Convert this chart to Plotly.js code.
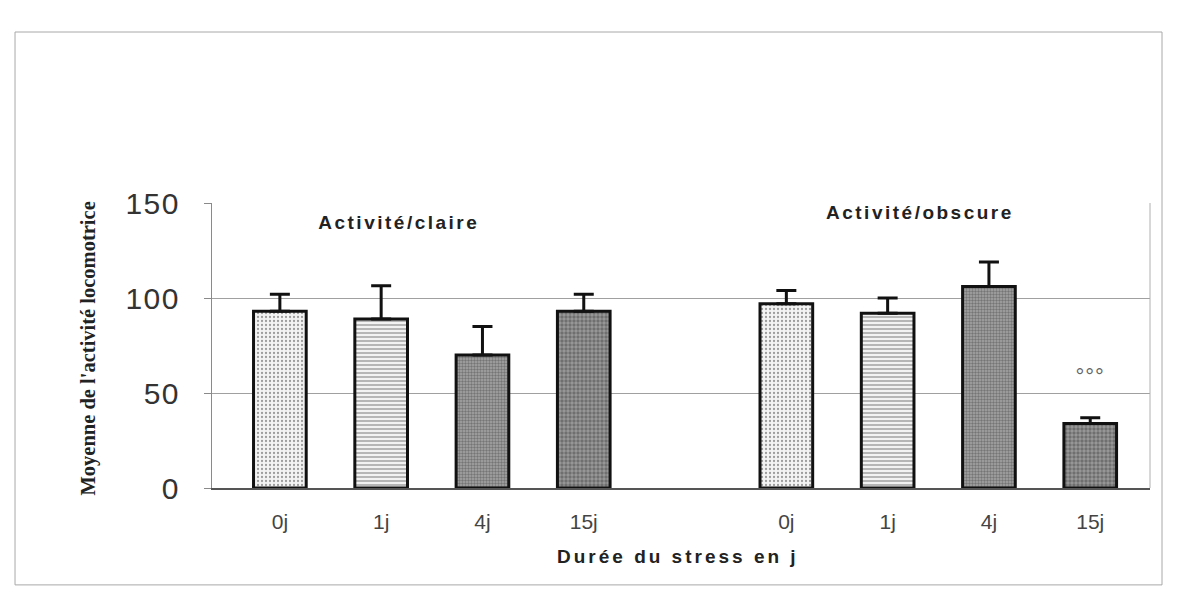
<!DOCTYPE html>
<html>
<head>
<meta charset="utf-8">
<script src="https://cdn.plot.ly/plotly-3.0.1.min.js"></script>
<style>
  html, body { margin: 0; padding: 0; background: #ffffff; }
  #chart { width: 1180px; height: 606px; }
  .annotation[data-index="0"] .annotation-text,
  .annotation[data-index="1"] .annotation-text { letter-spacing: 2.5px; }
  .annotation[data-index="2"] .annotation-text { letter-spacing: 3px; }
  .annotation[data-index="4"] .annotation-text { letter-spacing: 1px; }
  .ytick text { letter-spacing: 1.5px; }
</style>
</head>
<body>
<div id="chart"></div>
<script>
// ---- Data ----
const durations = ['0j', '1j', '4j', '15j'];
const groupLabels = ['Activité/claire', 'Activité/obscure'];
const claireMeans = [93, 89, 70, 93];
const claireErr = [9, 17.5, 15, 9];
const obscureMeans = [97, 92, 106, 34];
const obscureErr = [7, 8, 13, 3];
const obscureSig = ['', '', '', '°°°'];
const yTicks = [0, 50, 100, 150];
const xTitle = 'Durée du stress en j';
const yTitle = "Moyenne de l'activité locomotrice";

// ---- Styling per duration (patterns) ----
const bgColors = ['#f3f3f3', '#f2f2f2', '#a6a6a6', '#9a9a9a'];
const fgColors = ['#c4c4c4', '#6e6e6e', '#505050', '#1e1e1e'];
const shapes = ['.', '-', '.', '.'];
const pSizes = [4, 4, 3, 4];
const pSolid = [0.25, 0.35, 0.5, 0.55];

const gap = 1; // one empty slot between the two groups
const xClaire = durations.map((d, i) => i);
const xObscure = durations.map((d, i) => i + durations.length + gap);

function barTrace(name, xs, ys, errs) {
  return {
    type: 'bar',
    name: name,
    x: xs,
    y: ys,
    width: 0.52,
    marker: {
      color: bgColors,
      line: { color: '#111111', width: 3 },
      pattern: {
        shape: shapes,
        fgcolor: fgColors,
        bgcolor: bgColors,
        size: pSizes,
        solidity: pSolid,
        fillmode: 'overlay'
      }
    },
    error_y: {
      type: 'data',
      symmetric: false,
      array: errs,
      arrayminus: errs.map(() => 0),
      color: '#111111',
      thickness: 3,
      width: 10
    },
    hoverinfo: 'x+y',
    showlegend: false
  };
}

const traces = [
  barTrace(groupLabels[0], xClaire, claireMeans, claireErr),
  barTrace(groupLabels[1], xObscure, obscureMeans, obscureErr)
];

const boldSans = { family: 'Liberation Sans, Arial, sans-serif', size: 19, color: '#222', weight: 'bold' };

const annotations = [
  {
    xref: 'paper', yref: 'paper', x: 0.199, y: 0.93, xanchor: 'center', yanchor: 'middle',
    text: groupLabels[0], showarrow: false, font: boldSans
  },
  {
    xref: 'paper', yref: 'paper', x: 0.755, y: 0.968, xanchor: 'center', yanchor: 'middle',
    text: groupLabels[1], showarrow: false, font: boldSans
  },
  {
    xref: 'paper', yref: 'paper', x: 0.497, y: -0.239, xanchor: 'center', yanchor: 'middle',
    text: xTitle, showarrow: false, font: boldSans
  },
  {
    xref: 'paper', yref: 'paper', x: -0.132, y: 0.49, xanchor: 'center', yanchor: 'middle',
    text: yTitle, showarrow: false, textangle: -90,
    font: { family: 'Liberation Serif, Times New Roman, serif', size: 20.5, color: '#222', weight: 'bold' }
  }
];

obscureSig.forEach((s, i) => {
  if (s) {
    annotations.push({
      xref: 'x', yref: 'y', x: xObscure[i], y: obscureMeans[i] + obscureErr[i],
      xanchor: 'center', yanchor: 'bottom', yshift: 27,
      text: s, showarrow: false,
      font: { family: 'Liberation Sans, Arial, sans-serif', size: 22, color: '#666' }
    });
  }
});

const layout = {
  width: 1180,
  height: 606,
  margin: { l: 212, r: 30, t: 203, b: 118 },
  paper_bgcolor: '#ffffff',
  plot_bgcolor: '#ffffff',
  showlegend: false,
  xaxis: {
    range: [-0.67, 8.59],
    tickmode: 'array',
    tickvals: xClaire.concat(xObscure),
    ticktext: durations.concat(durations),
    showgrid: false,
    zeroline: false,
    showline: true,
    linecolor: '#555555',
    linewidth: 1.5,
    ticks: '',
    ticklabelstandoff: 14,
    tickfont: { family: 'Liberation Sans, Arial, sans-serif', size: 21, color: '#444' }
  },
  yaxis: {
    range: [0, 150],
    tickmode: 'array',
    tickvals: yTicks,
    showgrid: true,
    gridcolor: '#a0a0a0',
    gridwidth: 1,
    zeroline: false,
    showline: true,
    linecolor: '#8a8a8a',
    linewidth: 1,
    ticks: 'outside',
    ticklen: 7,
    tickcolor: '#8a8a8a',
    ticklabelstandoff: 18,
    tickfont: { family: 'Liberation Sans, Arial, sans-serif', size: 30, color: '#333' }
  },
  shapes: [
    { type: 'line', xref: 'paper', yref: 'paper', x0: 1, x1: 1, y0: 0, y1: 1,
      line: { color: '#b0b0b0', width: 1 } },
    { type: 'rect', xref: 'paper', yref: 'paper', x0: -0.21, x1: 1.0128, y0: -0.34, y1: 1.6,
      line: { color: '#a8a8a8', width: 1 }, layer: 'below' }
  ],
  annotations: annotations
};

Plotly.newPlot('chart', traces, layout, { displayModeBar: false, staticPlot: true });
</script>
</body>
</html>
